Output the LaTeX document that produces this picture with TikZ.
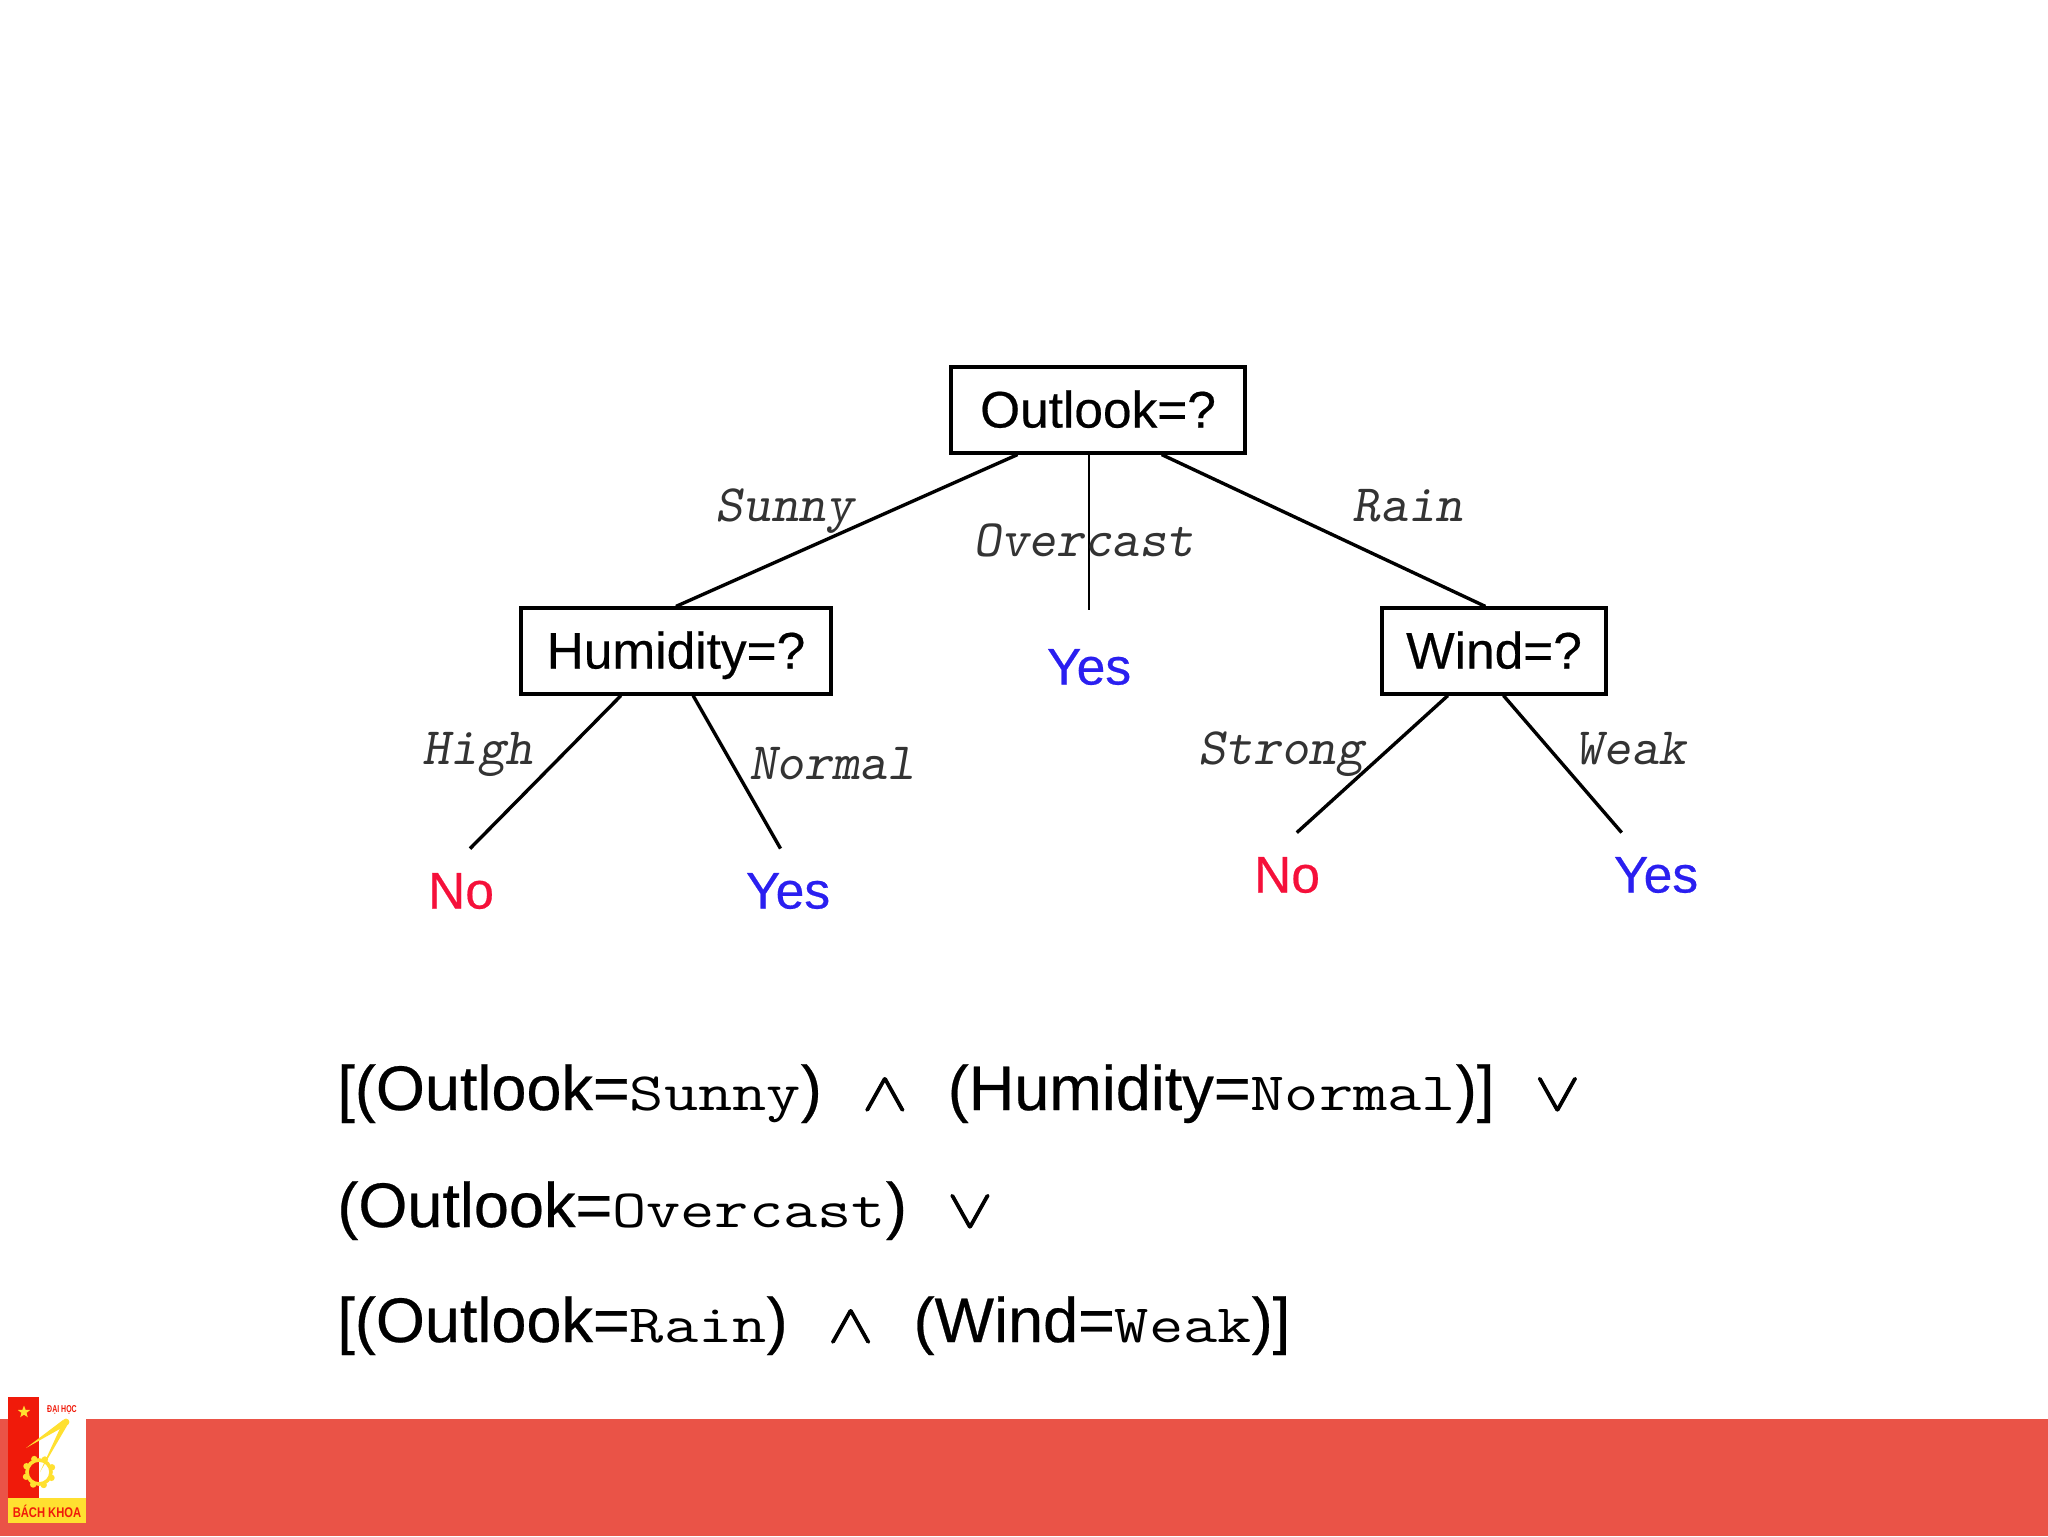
\documentclass[tikz,border=0pt]{standalone}
\usepackage{fontspec}
\setmainfont{Liberation Sans}[RawFeature={embolden=0.4}]
\newfontfamily\logicfont{Latin Modern Math}[RawFeature={embolden=1.5}]
\newfontfamily\bodymono{Latin Modern Mono}[FakeStretch=1.23]
\newfontfamily\logofont{Liberation Sans}
\usepackage{tikz}
\usetikzlibrary{shapes.geometric}
\definecolor{footred}{HTML}{EA5347}
\definecolor{logored}{HTML}{F01A0A}
\definecolor{logoyellow}{HTML}{FFE030}
\definecolor{leafblue}{HTML}{2A1FF0}
\definecolor{leafred}{HTML}{F5103A}
\newcommand{\mono}[1]{{\bodymono\fontsize{27}{30}\selectfont #1}}
\newcommand{\logic}[1]{\hspace{19.5pt}{\logicfont\fontsize{36}{38}\selectfont\scalebox{1}[.75]{#1}}}

\begin{document}
\begin{tikzpicture}[
  x=0.5pt, y=-0.5pt,
  box/.style={draw, line width=1.6pt, inner sep=0pt, minimum height=43pt,
              text height=22.5pt, text depth=5pt, font=\fontsize{25.7}{28}\selectfont},
  leaf/.style={inner sep=0pt, minimum height=42pt, font=\fontsize{25.8}{28}\selectfont},
  yesleaf/.style={leaf, text=leafblue},
  noleaf/.style={leaf, text=leafred},
  branch/.style={inner sep=0pt, text height=19pt, text depth=4.3pt,
                 font=\ttfamily\slshape\fontsize{26.3}{28}\selectfont, text=black!80},
  formula/.style={inner sep=0pt, anchor=base west, font=\fontsize{31.5}{34}\selectfont},
  arr/.style={line width=1.7pt}
]
  \useasboundingbox (0,0) rectangle (2048,1536);

  \node[box, minimum width=147pt] (outlook)  at (1098,410) {Outlook=?};
  \node[box, minimum width=155pt] (humidity) at (676,651)  {Humidity=?};
  \node[box, minimum width=112pt] (wind)     at (1494,651) {Wind=?};
  \node[yesleaf, minimum height=57pt] (yesmid) at (1089,667) {Yes};
  \node[noleaf]  (nohigh)   at (461,891)  {No};
  \node[yesleaf] (yesnorm)  at (788,891)  {Yes};
  \node[noleaf]  (nostrong) at (1287,875) {No};
  \node[yesleaf] (yesweak)  at (1656,875) {Yes};

  \draw[arr] (outlook.209) -- (humidity.north);
  \draw[line width=1.1pt] (outlook.south -| yesmid.north) -- (yesmid.north);
  \draw[arr] (outlook.-35) -- (wind.101);
  \draw[arr] (humidity.219) -- (nohigh.78);
  \draw[arr] (humidity.291) -- (yesnorm.100);
  \draw[arr] (wind.224) -- (nostrong.77);
  \draw[arr] (wind.-78) -- (yesweak.129);

  \node[branch] (sunny)    at (785,507)  {Sunny};
  \node[branch] (overcast) at (1084,542) {Overcast};
  \node[branch] (rain)     at (1408,507) {Rain};
  \node[branch] (high)     at (478,750)  {High};
  \node[branch] (normal)   at (832,765)  {Normal};
  \node[branch] (strong)   at (1281,750) {Strong};
  \node[branch] (weak)     at (1631,750) {Weak};

  \node[formula] (lineone)   at (337,1110) {[(Outlook=\mono{Sunny})\logic{∧}\hspace{19.5pt}(Humidity=\mono{Normal})]\logic{∨}};
  \node[formula] (linetwo)   at (337,1227) {(Outlook=\mono{Overcast})\logic{∨}};
  \node[formula] (linethree) at (337,1342) {[(Outlook=\mono{Rain})\logic{∧}\hspace{19.5pt}(Wind=\mono{Weak})]};

  % footer and logo
  \fill[footred] (0,1419) rectangle (2048,1536);
  \fill[white] (8,1397) rectangle (86,1523);
  \fill[logored] (8,1397) rectangle (39,1498);
  \fill[logoyellow] (8,1498) rectangle (86,1523);
  \node[star, star points=5, star point ratio=2.4, fill=logoyellow, inner sep=0pt, minimum size=6.5pt] (logostar) at (24,1412) {};
  \node[inner sep=0pt, text=logored, font=\logofont\bfseries\fontsize{5}{6}\selectfont] (logotop) at (62,1410) {\scalebox{.7}[1]{ĐẠI HỌC}};
  \node[inner sep=0pt, text=logored, font=\logofont\bfseries\fontsize{7}{8}\selectfont] (logoname) at (47,1511) {\scalebox{.8}[1]{BÁCH KHOA}};
  \node[circle, draw=logoyellow, line width=1.8pt, inner sep=0pt, minimum size=12pt] (logogear) at (39,1472) {};
  \foreach \a in {20,65,...,340}
    \fill[logoyellow] (logogear.\a) circle (1.6pt);
  \fill[logoyellow] (63,1420) -- (26,1448) -- (65,1426) -- cycle;
  \fill[logoyellow] (68,1424) -- (40,1472) -- (62,1424) -- cycle;
  \fill[logoyellow] (66,1422) circle (1.7pt);
\end{tikzpicture}
\end{document}
